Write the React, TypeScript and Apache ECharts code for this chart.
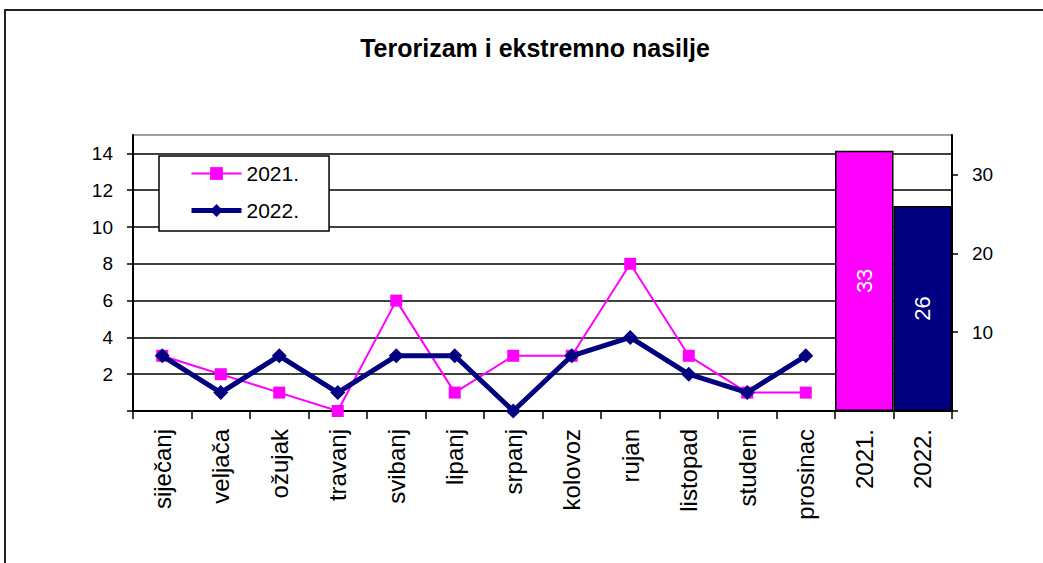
import React, { useEffect, useRef } from "react";
import * as echarts from "echarts";

const categories = [
  "siječanj", "veljača", "ožujak", "travanj", "svibanj", "lipanj",
  "srpanj", "kolovoz", "rujan", "listopad", "studeni", "prosinac",
  "2021.", "2022.",
];
const series2021 = [3, 2, 1, 0, 6, 1, 3, 3, 8, 3, 1, 1];
const series2022 = [3, 1, 3, 1, 3, 3, 0, 3, 4, 2, 1, 3];
const totals = [33, 26];
const leftTicks = [0, 2, 4, 6, 8, 10, 12, 14];
const rightTicks = [0, 10, 20, 30];

const MAGENTA = "#FF00FF";
const NAVY = "#000080";
const FONT = "Liberation Sans, Arial, sans-serif";

export default function App() {
  const ref = useRef<HTMLDivElement>(null);
  useEffect(() => {
    if (!ref.current) return;
    const chart = echarts.init(ref.current, null, { renderer: "svg" });
    const barData: any[] = categories.map(() => null);
    barData[12] = { value: totals[0], itemStyle: { color: MAGENTA } };
    barData[13] = { value: totals[1], itemStyle: { color: NAVY } };
    chart.setOption({
      animation: false,
      backgroundColor: "#fff",
      textStyle: { fontFamily: FONT },
      title: {
        text: "Terorizam i ekstremno nasilje",
        left: 530,
        top: 30,
        textAlign: "center",
        textStyle: { fontFamily: FONT, fontSize: 25, fontWeight: "bold", color: "#000" },
      },
      graphic: [
        {
          type: "rect",
          shape: { x: 5, y: 10, width: 1100, height: 600 },
          style: { fill: "none", stroke: "#222", lineWidth: 2 },
          silent: true,
        },
      ],
      legend: {
        left: 159,
        top: 156,
        orient: "vertical",
        backgroundColor: "#fff",
        borderColor: "#000",
        borderWidth: 1.5,
        padding: [7, 30, 10, 30],
        itemWidth: 50,
        itemHeight: 16,
        itemGap: 16,
        textStyle: { fontFamily: FONT, fontSize: 21, color: "#000", lineHeight: 20 },
        data: [
          { name: "2021.", lineStyle: { width: 2 } },
          { name: "2022.", lineStyle: { width: 5 } },
        ],
      },
      grid: {
        left: 133,
        right: 91,
        top: 135,
        bottom: 152,
        show: true,
        borderColor: "#808080",
        borderWidth: 1.5,
        backgroundColor: "transparent",
      },
      xAxis: {
        type: "category",
        data: categories,
        boundaryGap: true,
        axisLine: { lineStyle: { color: "#000", width: 2 } },
        axisTick: { show: true, length: 8, lineStyle: { color: "#000", width: 1.5 } },
        axisLabel: {
          interval: 0,
          rotate: 90,
          margin: 18,
          fontFamily: FONT,
          fontSize: 24,
          color: "#000",
        },
      },
      yAxis: [
        {
          type: "value",
          min: 0,
          max: 15,
          interval: 2,
          position: "left",
          axisLine: { show: true, lineStyle: { color: "#000", width: 2 } },
          axisTick: {
            show: true,
            length: 6,
            customValues: leftTicks,
            lineStyle: { color: "#000", width: 1.5 },
          },
          axisLabel: {
            fontFamily: FONT,
            fontSize: 19,
            color: "#000",
            margin: 20,
            customValues: leftTicks.filter((v) => v !== 0),
          },
          splitLine: {
            show: true,
            lineStyle: {
              color: ["#000", "#000", "#000", "#000", "#000", "#000", "#000", "#000", "#808080"],
              width: 1.5,
            },
          },
        },
        {
          type: "value",
          min: 0,
          max: 35,
          interval: 10,
          position: "right",
          axisLine: { show: true, lineStyle: { color: "#000", width: 2 } },
          axisTick: {
            show: true,
            length: 6,
            customValues: rightTicks,
            lineStyle: { color: "#000", width: 1.5 },
          },
          axisLabel: {
            fontFamily: FONT,
            fontSize: 19,
            color: "#000",
            margin: 20,
            customValues: rightTicks.filter((v) => v !== 0),
          },
          splitLine: { show: false },
        },
      ],
      series: [
        {
          name: "bars",
          type: "bar",
          yAxisIndex: 1,
          data: barData,
          barWidth: "100%",
          itemStyle: { borderColor: "#000", borderWidth: 1.5 },
          label: {
            show: true,
            position: "inside",
            rotate: 90,
            color: "#fff",
            fontFamily: FONT,
            fontSize: 22,
          },
          z: 1,
        },
        {
          name: "2021.",
          type: "line",
          data: series2021,
          color: MAGENTA,
          symbol: "rect",
          symbolSize: 12,
          lineStyle: { color: MAGENTA, width: 2 },
          itemStyle: { color: MAGENTA },
          z: 3,
        },
        {
          name: "2022.",
          type: "line",
          data: series2022,
          color: NAVY,
          symbol: "diamond",
          symbolSize: 15,
          lineStyle: { color: NAVY, width: 5 },
          itemStyle: { color: NAVY },
          z: 4,
        },
      ],
    });
    return () => chart.dispose();
  }, []);
  return (
    <div
      ref={ref}
      style={{ position: "fixed", left: 0, top: 0, width: 1043, height: 563 }}
    />
  );
}
